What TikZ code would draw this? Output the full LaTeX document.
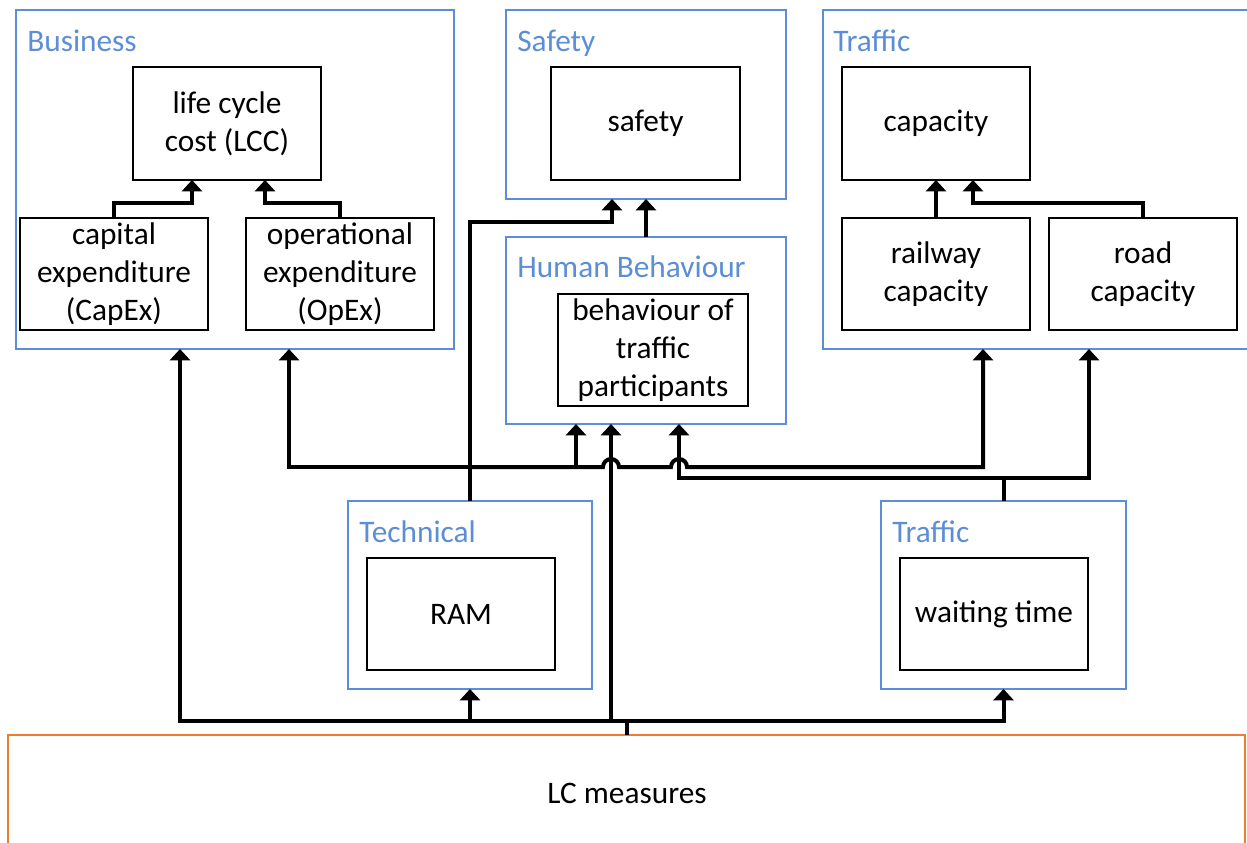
\documentclass[tikz,border=0pt]{standalone}
\usepackage{fontspec}
\setmainfont{Carlito}
\usetikzlibrary{arrows.meta,calc}
\definecolor{grpblue}{RGB}{91,142,214}
\definecolor{lcorange}{RGB}{237,125,49}
\newcommand{\unitpx}{0.75pt}
\begin{document}
\begin{tikzpicture}[x=0.75pt,y=-0.75pt,
  font=\fontsize{23.5pt}{28.5pt}\selectfont,
  group/.style={draw=grpblue, line width=1.5pt, inner sep=0pt, outer sep=0pt},
  item/.style={draw=black, line width=1.5pt, inner sep=0pt, outer sep=0pt, align=center,
    minimum width=188*\unitpx, minimum height=112*\unitpx},
  grouplabel/.style={text=grpblue, anchor=base west, inner sep=0pt},
  conn/.style={line width=3pt, -{Triangle[width=15pt,length=8.5pt]}},
  wire/.style={line width=3pt}]
\useasboundingbox (0,0) rectangle (1247,843);
\clip (0,0) rectangle (1247,843);

% group frames
\node[group, minimum width=438*\unitpx, minimum height=339*\unitpx] (business) at (235,179.5) {};
\node[group, minimum width=280*\unitpx, minimum height=189*\unitpx] (safetyg) at (646,104.5) {};
\node[group, minimum width=439*\unitpx, minimum height=339*\unitpx] (trafficg) at (1042.5,179.5) {};
\node[group, minimum width=280*\unitpx, minimum height=187*\unitpx] (human) at (646,330.5) {};
\node[group, minimum width=244*\unitpx, minimum height=188*\unitpx] (techg) at (470,595) {};
\node[group, minimum width=245*\unitpx, minimum height=188*\unitpx] (trafficb) at (1003.5,595) {};
\node[draw=lcorange, line width=1.5pt, inner sep=0pt, outer sep=0pt,
  minimum width=1237*\unitpx, minimum height=165*\unitpx] (lc) at (626.5,817.5) {};
\node (lctext) at (627,793) {LC measures};

% group titles
\node[grouplabel] (lblbusiness) at (27,51) {Business};
\node[grouplabel] (lblsafety) at (517,51) {Safety};
\node[grouplabel] (lbltraffic) at (833,51) {Traffic};
\node[grouplabel] (lblhuman) at (517,277) {Human Behaviour};
\node[grouplabel] (lbltech) at (359,542) {Technical};
\node[grouplabel] (lbltraffic2) at (892,542) {Traffic};

% indicator boxes
\node[item, minimum height=113*\unitpx] (lcc) at (227,123.5) {life cycle\\cost (LCC)};
\node[item] (capex) at (114,274) {capital\\expenditure\\(CapEx)};
\node[item] (opex) at (340,274) {operational\\expenditure\\(OpEx)};
\node[item, minimum width=189*\unitpx, minimum height=113*\unitpx] (safety) at (645.5,123.5) {safety};
\node[item, minimum width=190*\unitpx] (behav) at (653,350) {behaviour of\\traffic\\participants};
\node[item, minimum height=113*\unitpx] (cap) at (936,123.5) {capacity};
\node[item] (rail) at (936,274) {railway\\capacity};
\node[item] (road) at (1143,274) {road\\capacity};
\node[item] (ram) at (461,614) {RAM};
\node[item] (wait) at (994,614) {waiting time};

% links inside the groups
\draw[conn] (capex.north) -- ++(0,-15) -| ([xshift=-35*\unitpx]lcc.south);
\draw[conn] (opex.north) -- ++(0,-15) -| ([xshift=38*\unitpx]lcc.south);
\draw[conn] (rail.north) -- (cap.south);
\draw[conn] (road.north) -- ++(0,-15) -| ([xshift=37*\unitpx]cap.south);
\draw[conn] (human.north) -- (safetyg.south);

% technical impacts
\draw[conn] (techg.north) -- ++(0,-279) -| ([xshift=-34*\unitpx]safetyg.south);
\coordinate (tj) at (470,467);
\draw[conn] (tj) -| ([xshift=54*\unitpx]business.south);
\draw[conn] (tj) -| ([xshift=-70*\unitpx]human.south);
\draw[conn] (tj) -- ++(133,0) arc[start angle=180, end angle=360, radius=8]
  -- ++(52,0) arc[start angle=180, end angle=360, radius=8]
  -| ([xshift=-59.5*\unitpx]trafficg.south);

% traffic impacts
\draw[wire] (trafficb.north) -- ++(0,-23) coordinate (rj);
\draw[conn] (rj) -| ([xshift=33*\unitpx]human.south);
\draw[conn] (rj) -| ([xshift=46.5*\unitpx]trafficg.south);

% LC measures feed
\draw[wire] (lc.north) -- ++(0,-14) coordinate (hub);
\draw[conn] (hub) -| ([xshift=-55*\unitpx]business.south);
\draw[conn] (hub) -| (techg.south);
\draw[conn] (hub) -| (trafficb.south);
\draw[conn] (hub) -| ([xshift=-35*\unitpx]human.south);
\end{tikzpicture}
\end{document}
